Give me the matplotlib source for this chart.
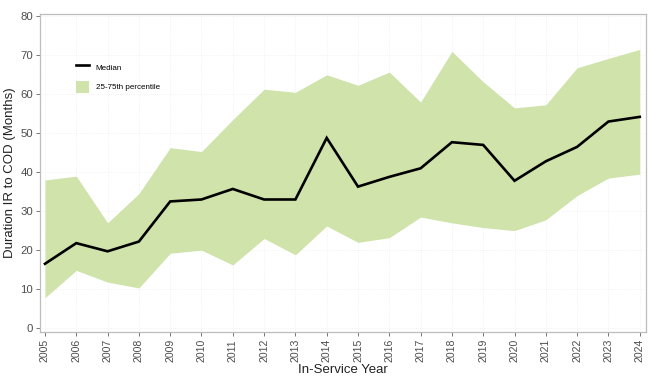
import matplotlib.pyplot as plt
from matplotlib.patches import Patch
from matplotlib.lines import Line2D

plt.rcParams['font.family'] = ['Liberation Sans', 'DejaVu Sans']

years = list(range(2005, 2025))
median = [16.5, 21.8, 19.7, 22.2, 32.5, 33.0, 35.7, 33.0, 33.0, 48.8,
          36.3, 38.8, 41.0, 47.7, 47.0, 37.8, 42.8, 46.5, 53.0, 54.2]
p75 = [38.0, 39.0, 27.0, 34.5, 46.3, 45.3, 53.5, 61.3, 60.5, 65.0,
       62.3, 65.7, 58.0, 71.0, 63.2, 56.5, 57.3, 66.8, 69.2, 71.5]
p25 = [7.8, 14.8, 11.8, 10.3, 19.2, 20.0, 16.2, 23.0, 18.8, 26.2,
       22.0, 23.2, 28.5, 27.0, 25.8, 25.0, 27.8, 34.0, 38.5, 39.5]

green = '#cfe3aa'
grey = '#4d4d4d'

fig = plt.figure(figsize=(6.51, 3.77), dpi=100)
ax = fig.add_axes([0.0614, 0.1194, 0.9309, 0.8435])

ax.fill_between(years, p25, p75, color=green, linewidth=0)
ax.plot(years, median, color='black', linewidth=1.9, solid_joinstyle='miter')

ax.set_xlim(2004.84, 2024.2)
ax.set_ylim(-1.0, 80.6)
ax.set_xticks(years)
ax.set_xticklabels([str(y) for y in years], rotation=90)
ax.set_yticks(range(0, 81, 10))
ax.grid(True, color='#eeeeee', linestyle=':', linewidth=0.6)
ax.set_axisbelow(True)

for s in ax.spines.values():
    s.set_color('#bdbdbd')
    s.set_linewidth(0.9)
ax.tick_params(colors='#777777', labelcolor=grey, labelsize=7.6, length=3, width=0.7, pad=2)
ax.tick_params(axis='y', labelsize=8.2)

ax.set_xlabel('In-Service Year', fontsize=9.5, color='#222222', labelpad=1)
ax.set_ylabel('Duration IR to COD (Months)', fontsize=9.5, color='#222222', labelpad=3)

handles = [Line2D([0], [0], color='black', linewidth=1.9),
           Patch(facecolor=green, edgecolor='none')]
ax.legend(handles, ['Median', '25-75th percentile'], loc='upper left',
          bbox_to_anchor=(0.047, 0.875), frameon=False, fontsize=5.8,
          handlelength=1.6, handleheight=2.0, labelspacing=0.9, handletextpad=0.9)

fig.savefig('out.png', dpi=100)
